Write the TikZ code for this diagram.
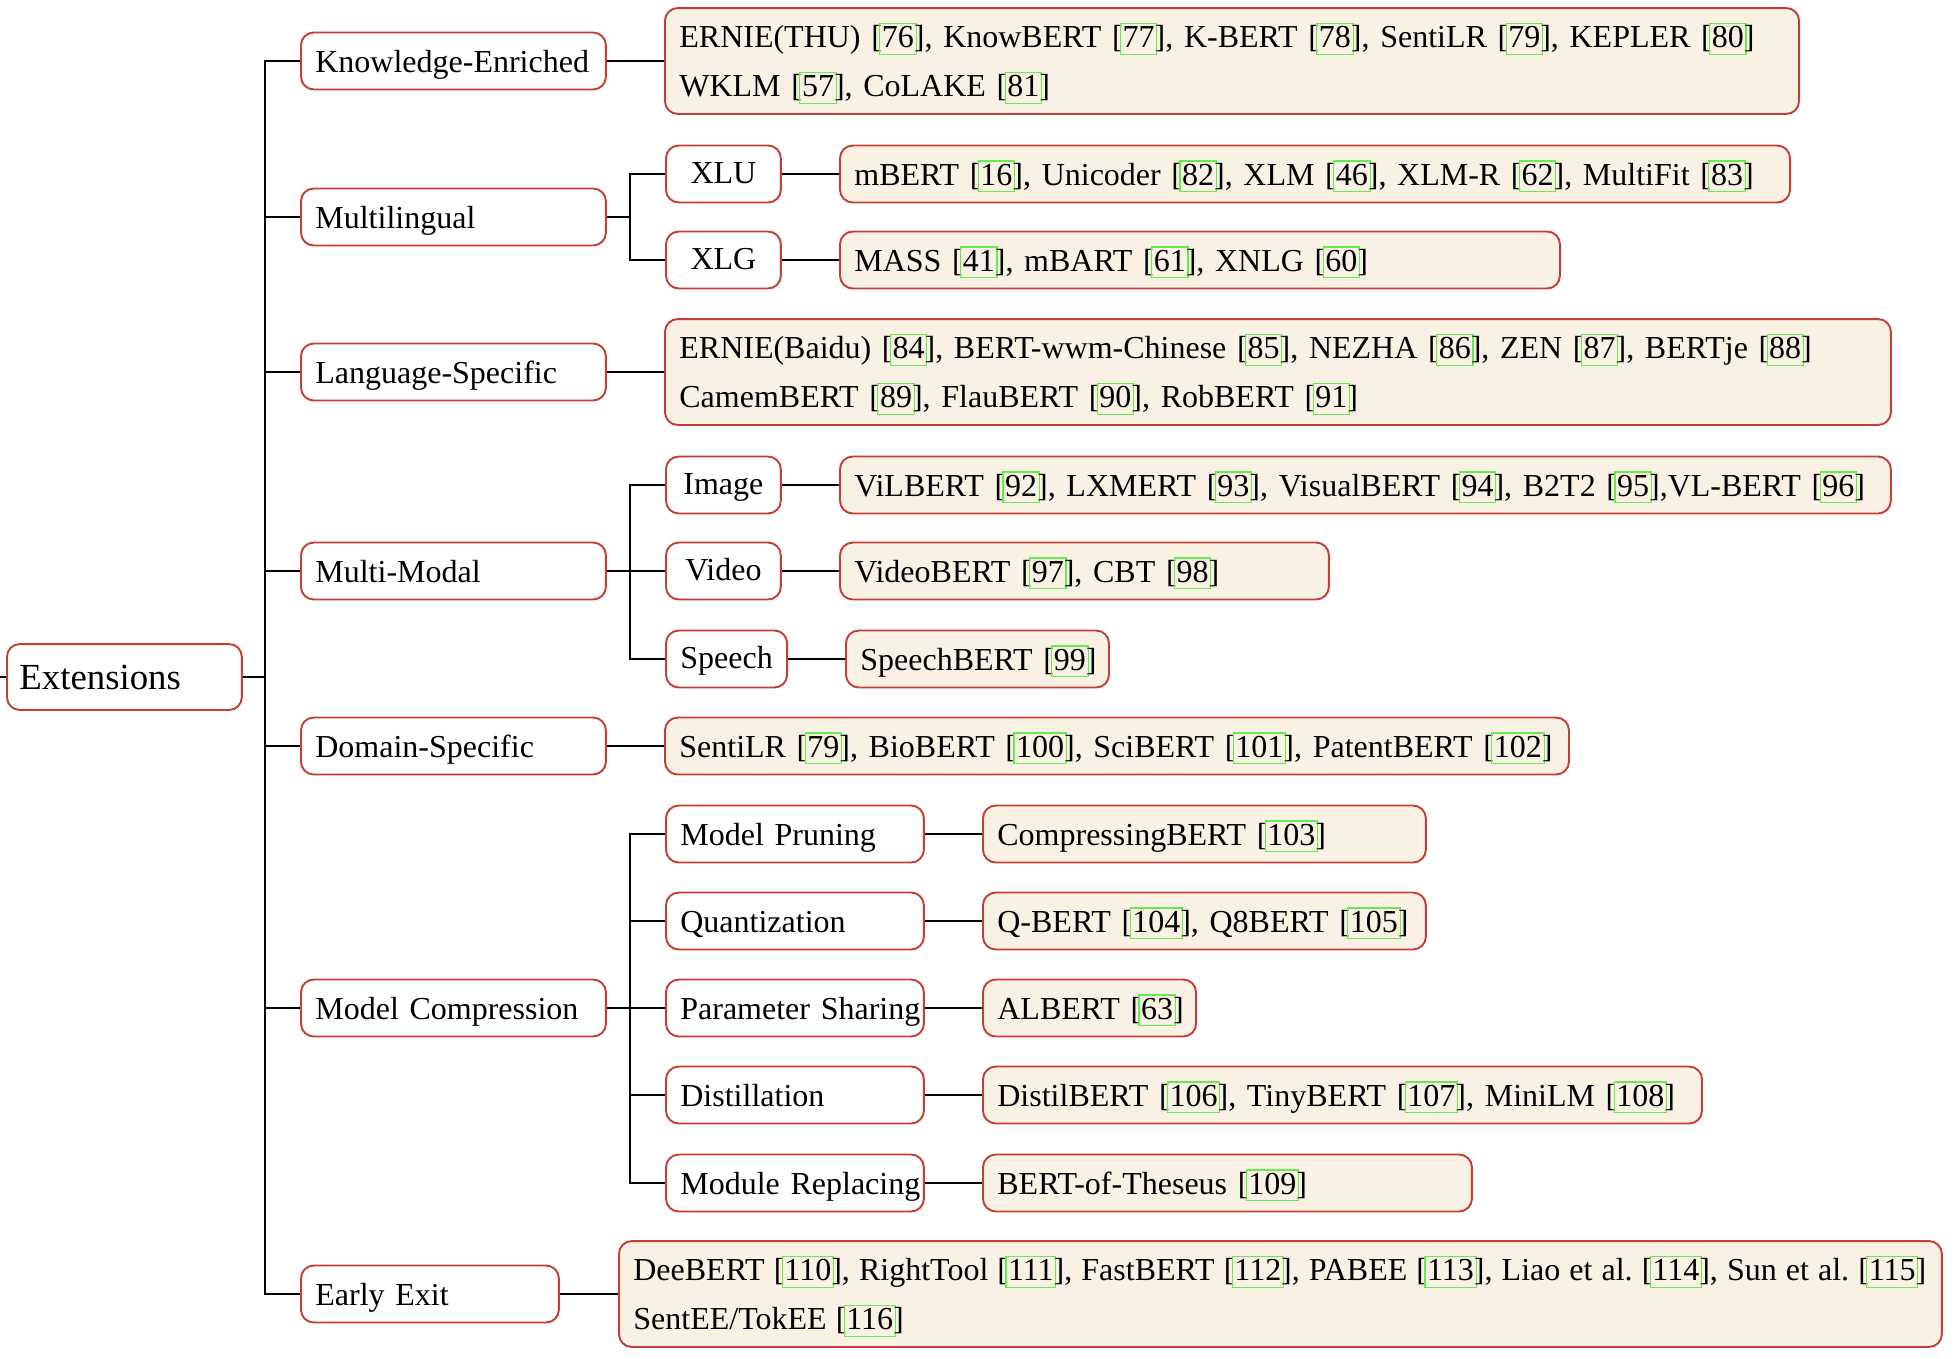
\documentclass[tikz,border=0pt]{standalone}
\usepackage{fontspec}
\setmainfont{Liberation Serif}
\definecolor{boxred}{RGB}{196,62,52}
\definecolor{leaffill}{RGB}{250,241,229}
\definecolor{citegreen}{RGB}{100,235,80}
\newcommand\rc[1]{[{\setlength\fboxsep{0.5pt}\setlength\fboxrule{0.35pt}\kern-0.85pt\textcolor{citegreen}{\fbox{\textcolor{black}{\vphantom{[}#1}}}\kern-0.85pt}]}
\tikzset{
  base/.style={draw=boxred, line width=0.6pt, rounded corners=4pt, inner xsep=4.5pt, inner ysep=2pt,
    minimum height=17.8pt, font=\fontsize{10}{15.3}\selectfont, anchor=west, align=left},
  lift/.style={execute at begin node={\rule[-2.2pt]{0pt}{11.5pt}}},
  cat/.style={base, fill=white, lift},
  leaf/.style={base, fill=leaffill, lift},
  two/.style={minimum height=33.1pt},
  narrow/.style={base, fill=white, align=center, minimum width=#1, execute at begin node={\rule[-2.2pt]{0pt}{10.4pt}}},
  conn/.style={line width=0.6pt, black},
}
\begin{document}
\begin{tikzpicture}[x=0.3125pt, y=-0.3125pt]
\useasboundingbox (0,0) rectangle (1960,1358);

% root
\node[base, fill=white, text width=65.6pt, inner xsep=3.9pt, minimum height=20.6pt, font=\fontsize{11.5}{14}\selectfont] (root) at (6,677) {Extensions};
\coordinate (stub) at (0,677);
\coordinate (trunk) at (265,677);

% level 1
\node[cat, text width=86.3pt] (ke) at (300,61) {Knowledge-Enriched};
\node[cat, text width=86.3pt] (ml) at (300,217) {Multilingual};
\node[cat, text width=86.3pt] (ls) at (300,372) {Language-Specific};
\node[cat, text width=86.3pt] (mm) at (300,571) {Multi-Modal};
\node[cat, text width=86.3pt] (ds) at (300,746) {Domain-Specific};
\node[cat, text width=86.3pt] (mc) at (300,1008) {Model Compression};
\node[cat, text width=71.6pt] (ee) at (300,1294) {Early Exit};

% level 2
\node[narrow=35.9pt] (xlu) at (665,174) {XLU};
\node[narrow=35.9pt] (xlg) at (665,260) {XLG};
\node[narrow=35.9pt] (img) at (665,485) {Image};
\node[narrow=35.9pt] (vid) at (665,571) {Video};
\node[narrow=37.5pt] (sph) at (665,659) {Speech};
\node[cat, text width=71.6pt] (mp) at (665,834) {\mbox{Model Pruning}};
\node[cat, text width=71.6pt] (qz) at (665,921) {\mbox{Quantization}};
\node[cat, text width=71.6pt] (ps) at (665,1008) {\mbox{Parameter Sharing}};
\node[cat, text width=71.6pt] (di) at (665,1095) {\mbox{Distillation}};
\node[cat, text width=71.6pt] (mr) at (665,1183) {\mbox{Module Replacing}};

% leaves
\node[leaf, two, text width=345.4pt] (kel) at (664,61) {\mbox{ERNIE(THU) \rc{76}, KnowBERT \rc{77}, K-BERT \rc{78}, SentiLR \rc{79}, KEPLER \rc{80}}\\\mbox{WKLM \rc{57}, CoLAKE \rc{81}}};
\node[leaf, text width=287.9pt] (xlul) at (839,174) {\mbox{mBERT \rc{16}, Unicoder \rc{82}, XLM \rc{46}, XLM-R \rc{62}, MultiFit \rc{83}}};
\node[leaf, text width=216pt] (xlgl) at (839,260) {\mbox{MASS \rc{41}, mBART \rc{61}, XNLG \rc{60}}};
\node[leaf, two, text width=374.1pt] (lsl) at (664,372) {\mbox{ERNIE(Baidu) \rc{84}, BERT-wwm-Chinese \rc{85}, NEZHA \rc{86}, ZEN \rc{87}, BERTje \rc{88}}\\\mbox{CamemBERT \rc{89}, FlauBERT \rc{90}, RobBERT \rc{91}}};
\node[leaf, text width=319.4pt] (imgl) at (839,485) {\mbox{ViLBERT \rc{92}, LXMERT \rc{93}, VisualBERT \rc{94}, B2T2 \rc{95},VL-BERT \rc{96}}};
\node[leaf, text width=143.8pt] (vidl) at (839,571) {\mbox{VideoBERT \rc{97}, CBT \rc{98}}};
\node[leaf, text width=73.2pt] (sphl) at (845,659) {\mbox{SpeechBERT \rc{99}}};
\node[leaf, text width=273.5pt] (dsl) at (664,746) {\mbox{SentiLR \rc{79}, BioBERT \rc{100}, SciBERT \rc{101}, PatentBERT \rc{102}}};
\node[leaf, text width=129.4pt] (mpl) at (982,834) {\mbox{CompressingBERT \rc{103}}};
\node[leaf, text width=129.4pt] (qzl) at (982,921) {\mbox{Q-BERT \rc{104}, Q8BERT \rc{105}}};
\node[leaf, text width=57.6pt] (psl) at (982,1008) {\mbox{ALBERT \rc{63}}};
\node[leaf, text width=215.7pt] (dil) at (982,1095) {\mbox{DistilBERT \rc{106}, TinyBERT \rc{107}, MiniLM \rc{108}}};
\node[leaf, text width=143.8pt] (mrl) at (982,1183) {\mbox{BERT-of-Theseus \rc{109}}};
\node[leaf, two, text width=404.4pt] (eel) at (618,1294) {\spaceskip=2.84pt\relax\mbox{DeeBERT \rc{110}, RightTool \rc{111}, FastBERT \rc{112}, PABEE \rc{113}, Liao et al.\ \rc{114}, Sun et al.\ \rc{115}}\\\mbox{SentEE/TokEE \rc{116}}};

% connectors
\draw[conn] (stub) -- (root.west);
\draw[conn] (root.east) -- (trunk);
\foreach \c in {ke,ml,ls,mm,ds,mc,ee} \draw[conn] (trunk) |- (\c.west);
\foreach \c in {xlu,xlg} \draw[conn] (ml.east) -- ++(23,0) |- (\c.west);
\foreach \c in {img,vid,sph} \draw[conn] (mm.east) -- ++(23,0) |- (\c.west);
\foreach \c in {mp,qz,ps,di,mr} \draw[conn] (mc.east) -- ++(23,0) |- (\c.west);
\draw[conn] (ke.east) -- (kel.west);
\draw[conn] (ls.east) -- (lsl.west);
\draw[conn] (ds.east) -- (dsl.west);
\draw[conn] (ee.east) -- (eel.west);
\foreach \a/\b in {xlu/xlul,xlg/xlgl,img/imgl,vid/vidl,sph/sphl,mp/mpl,qz/qzl,ps/psl,di/dil,mr/mrl} \draw[conn] (\a.east) -- (\b.west);
\end{tikzpicture}
\end{document}
